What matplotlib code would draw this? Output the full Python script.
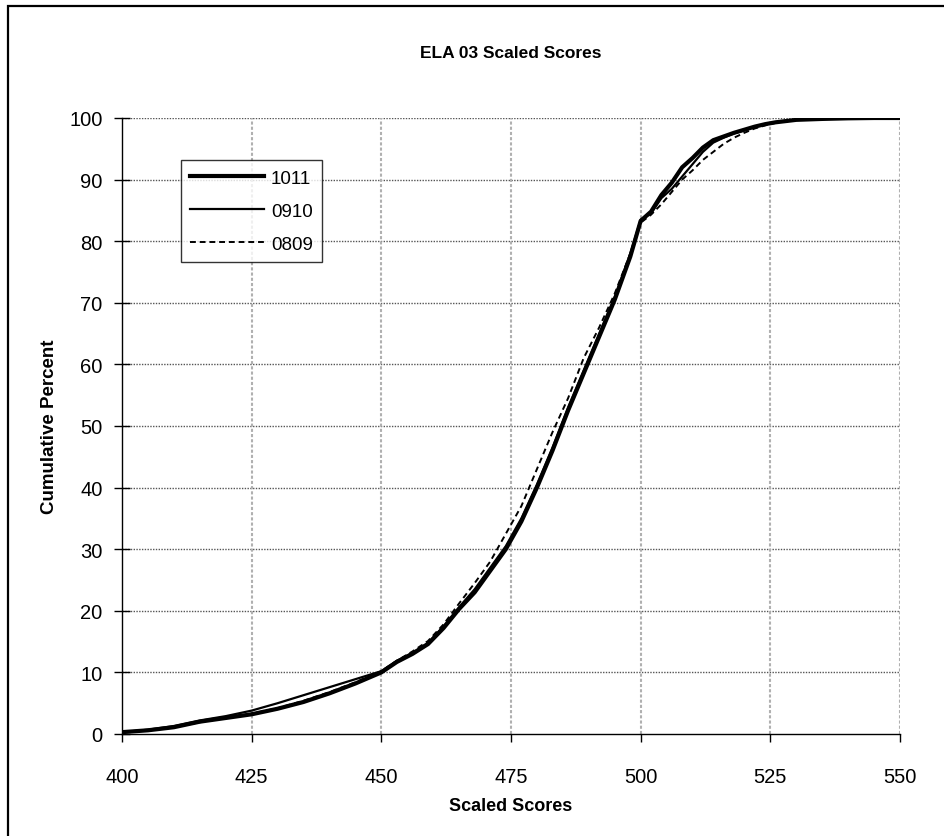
import matplotlib
matplotlib.use("Agg")
import matplotlib.pyplot as plt
from matplotlib.patches import Rectangle

plt.rcParams['font.family'] = ['Liberation Sans', 'DejaVu Sans']

scores = [400, 405, 410, 415, 420, 425, 430, 435, 440, 445, 450, 453, 456, 459,
          462, 465, 468, 471, 474, 477, 480, 483, 486, 489, 492, 495, 498, 500,
          502, 504, 506, 508, 510, 512, 514, 516, 518, 520, 522, 524, 526, 528,
          530, 535, 540, 545, 550]

cum_1011 = [0.3, 0.6, 1.1, 2.0, 2.6, 3.2, 4.1, 5.2, 6.6, 8.2, 10.0, 11.7, 13.0, 14.6,
            17.2, 20.3, 23.0, 26.5, 30.0, 34.5, 40.0, 46.0, 52.5, 58.5, 64.5, 70.5,
            77.5, 83.3, 84.8, 87.5, 89.5, 92.0, 93.5, 95.2, 96.4, 97.0, 97.6, 98.1,
            98.6, 99.0, 99.3, 99.5, 99.7, 99.85, 99.95, 100.0, 100.0]

cum_0910 = [0.3, 0.7, 1.3, 2.2, 2.9, 3.8, 5.0, 6.3, 7.6, 8.9, 10.2, 11.9, 13.2, 14.8,
            17.5, 20.6, 23.5, 27.0, 30.5, 35.0, 40.5, 46.5, 53.0, 59.0, 65.0, 71.0,
            78.0, 83.5, 84.5, 87.0, 88.5, 90.5, 92.5, 94.5, 96.0, 96.8, 97.5, 98.0,
            98.6, 99.0, 99.3, 99.5, 99.7, 99.85, 99.95, 100.0, 100.0]

cum_0809 = [0.3, 0.6, 1.1, 1.9, 2.6, 3.3, 4.2, 5.4, 6.8, 8.4, 10.2, 11.9, 13.4, 15.1,
            17.8, 21.2, 24.5, 28.0, 32.5, 37.0, 43.0, 49.0, 54.5, 61.0, 66.0, 71.5,
            78.0, 83.0, 84.3, 86.0, 88.0, 90.0, 91.5, 93.2, 94.5, 95.8, 96.8, 97.6,
            98.3, 98.8, 99.2, 99.5, 99.7, 99.85, 99.95, 100.0, 100.0]

series_labels = ['1011', '0910', '0809']
x_ticks = [400, 425, 450, 475, 500, 525, 550]
y_ticks = [0, 10, 20, 30, 40, 50, 60, 70, 80, 90, 100]

fig = plt.figure(figsize=(9.45, 8.37), dpi=100)
fig.patch.set_facecolor('white')

# outer chart frame
fig.patches.append(Rectangle((8 / 945, -0.05), 1.2, 1 - 7 / 837 + 0.05,
                             transform=fig.transFigure, fill=False,
                             edgecolor='black', linewidth=1.6))

ax = fig.add_axes([122 / 945, 1 - 735 / 837, (900 - 122) / 945, (735 - 119) / 837])

ax.plot(scores, cum_1011, color='black', linewidth=3.0, label=series_labels[0], zorder=4)
ax.plot(scores, cum_0910, color='black', linewidth=1.6, label=series_labels[1], zorder=3)
ax.plot(scores, cum_0809, color='black', linewidth=1.4, linestyle=(0, (3, 2)),
        label=series_labels[2], zorder=3)

ax.set_xlim(400, 550)
ax.set_ylim(0, 100)
ax.set_xticks(x_ticks)
ax.set_yticks(y_ticks)

for y in y_ticks[1:]:
    ax.axhline(y, color='#555555', linewidth=1.0, linestyle=(0, (1, 1)), zorder=1)
for x in x_ticks[1:]:
    ax.axvline(x, color='#b0b0b0', linewidth=1.5, linestyle=(0, (1.5, 1)), zorder=1)

for s in ['top', 'right']:
    ax.spines[s].set_visible(False)
for s in ['left', 'bottom']:
    ax.spines[s].set_linewidth(1.0)
    ax.spines[s].set_color('black')

ax.tick_params(axis='x', direction='out', length=6, width=1, labelsize=14.5, pad=18)
ax.tick_params(axis='y', direction='inout', length=12, width=1, labelsize=14.5, pad=8)

ax.set_title('ELA 03 Scaled Scores', fontsize=12.5, fontweight='bold', pad=44)
ax.set_xlabel('Scaled Scores', fontsize=13, fontweight='bold', labelpad=8)
ax.set_ylabel('Cumulative Percent', fontsize=13.5, fontweight='bold', labelpad=8)

leg = ax.legend(loc='upper left', bbox_to_anchor=(59 / 778, 1 - 42 / 616),
                fontsize=13.5, frameon=True, fancybox=False, handlelength=3.9,
                borderpad=0.5, labelspacing=0.85, handletextpad=0.4, borderaxespad=0)
leg.get_frame().set_edgecolor('black')
leg.get_frame().set_linewidth(1.0)

fig.savefig('out.png', dpi=100, facecolor='white')
